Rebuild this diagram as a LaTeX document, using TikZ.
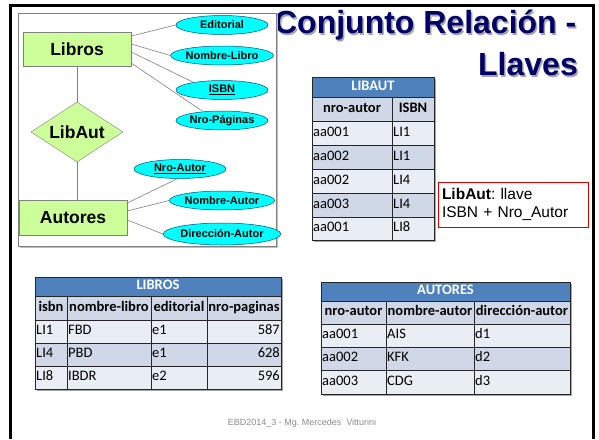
\documentclass[tikz,border=0pt]{standalone}
\usepackage{fontspec}
\setmainfont{Liberation Sans}
\newfontfamily\calfont{Carlito}
\usetikzlibrary{shapes.geometric}
\frenchspacing
\definecolor{navy}{RGB}{0,0,102}
\definecolor{ergreen}{RGB}{204,255,153}
\definecolor{ercyan}{RGB}{0,255,255}
\definecolor{ellline}{RGB}{0,80,120}
\definecolor{hdrblue}{RGB}{79,129,189}
\definecolor{rowA}{RGB}{233,237,244}
\definecolor{rowB}{RGB}{208,216,232}
\tikzset{
  ent/.style={draw=gray, fill=ergreen, minimum width=108pt, minimum height=34pt, inner sep=0pt, font=\fontsize{17.5}{20}\selectfont\bfseries},
  rel/.style={diamond, draw=gray, fill=ergreen, shape aspect=1.6, minimum width=92pt, minimum height=60pt, inner sep=0pt, font=\fontsize{17.5}{20}\selectfont\bfseries},
  attr/.style={ellipse, draw=ellline, line width=0.5pt, fill=ercyan, minimum width=92pt, minimum height=19pt, inner sep=0pt, font=\fontsize{11}{13}\selectfont\bfseries},
  erline/.style={draw=gray, line width=0.6pt},
  cellline/.style={draw=black!85, line width=0.6pt},
  celltxt/.style={inner sep=1pt, font=\calfont\fontsize{14.5}{17}\selectfont, text height=9.5pt, text depth=3pt},
  hdrtxt/.style={celltxt, font=\calfont\fontsize{14.5}{17}\selectfont\bfseries, text=white},
  coltxt/.style={celltxt, font=\calfont\fontsize{14.5}{17}\selectfont\bfseries},
  tshadow/.style={fill=black!35},
  titletxt/.style={inner sep=0pt, font=\fontsize{32}{38}\selectfont\bfseries}
}
% cell: name, x1, y1, x2, y2, fill, align(l/c/r), text, style
\newcommand\mycell[9]{%
  \path[cellline, fill=#6] (#2,#3) rectangle (#4,#5);
  \ifx l#7\node[#9, anchor=west] (#1) at ({#2},{(#3+#5)/2}) {#8};\fi
  \ifx c#7\node[#9] (#1) at ({(#2+#4)/2},{(#3+#5)/2}) {#8};\fi
  \ifx r#7\node[#9, anchor=east] (#1) at ({#4},{(#3+#5)/2}) {#8};\fi
}
\begin{document}
\begin{tikzpicture}[x=1pt,y=-1pt]
\useasboundingbox (0,0) rectangle (599,439);
\fill[white] (0,0) rectangle (599,439);
% slide frame
\draw[line width=3pt] (10,439) -- (10,5.5) -- (593,5.5) -- (593,439);

% title
\node[titletxt, text=black!35, anchor=base east] (t1s) at (578,35) {Conjunto Relación -};
\node[titletxt, text=navy, anchor=base east] (t1) at (576.5,33.5) {Conjunto Relación -};
\node[titletxt, text=black!35, anchor=base east] (t2s) at (579.5,77) {Llaves};
\node[titletxt, text=navy, anchor=base east] (t2) at (578,75.5) {Llaves};

% ER diagram box
\fill[black!25] (20,15) rectangle (278,248);
\draw[draw=gray, fill=white, line width=0.8pt] (18,13) rectangle (276,246);

\node[ent] (libros) at (77,49) {Libros};
\node[ent, minimum height=35pt] (autores) at (73,217.5) {Autores};
\node[rel] (libaut) at (77,132) {LibAut};

\node[attr] (editorial) at (222,25) {Editorial};
\node[attr] (nlibro) at (222,55.5) {Nombre-Libro};
\node[attr] (isbn) at (222,90) {\underline{ISBN}};
\node[attr] (npag) at (222,120.5) {Nro-Páginas};
\node[attr] (nautor) at (180,169) {\underline{Nro-Autor}};
\node[attr] (nombrea) at (222,200.5) {Nombre-Autor};
\node[attr, minimum height=22pt] (direcc) at (222,234) {Dirección-Autor};

\draw[erline] ([yshift=13pt]libros.east) -- (editorial.west);
\draw[erline] ([yshift=5pt]libros.east) -- (nlibro.west);
\draw[erline] ([yshift=-3pt]libros.east) -- (isbn.165);
\draw[erline] ([yshift=-14pt]libros.east) -- (npag.155);
\draw[erline] (libros.south -| libaut.north) -- (libaut.north);
\draw[erline] (libaut.south) -- (libaut.south |- autores.north);
\draw[erline] ([yshift=14.5pt]autores.east) -- (nautor.255);
\draw[erline] ([yshift=6.5pt]autores.east) -- (nombrea.west);
\draw[erline] ([yshift=-2.5pt]autores.east) -- (direcc.west);

% LIBAUT table
\fill[tshadow] (314,79) rectangle (436,242);
\mycell{la-h}{312}{77}{434}{97}{hdrblue}{c}{LIBAUT}{hdrtxt}
\mycell{la-c1}{312}{97}{392}{121}{rowB}{c}{nro-autor}{coltxt}
\mycell{la-c2}{392}{97}{434}{121}{rowB}{c}{ISBN}{coltxt}
\mycell{la-11}{312}{121}{392}{145}{rowA}{l}{aa001}{celltxt}
\mycell{la-12}{392}{121}{434}{145}{rowA}{l}{LI1}{celltxt}
\mycell{la-21}{312}{145}{392}{169}{rowB}{l}{aa002}{celltxt}
\mycell{la-22}{392}{145}{434}{169}{rowB}{l}{LI1}{celltxt}
\mycell{la-31}{312}{169}{392}{193}{rowA}{l}{aa002}{celltxt}
\mycell{la-32}{392}{169}{434}{193}{rowA}{l}{LI4}{celltxt}
\mycell{la-41}{312}{193}{392}{217}{rowB}{l}{aa003}{celltxt}
\mycell{la-42}{392}{193}{434}{217}{rowB}{l}{LI4}{celltxt}
\mycell{la-51}{312}{217}{392}{240}{rowA}{l}{aa001}{celltxt}
\mycell{la-52}{392}{217}{434}{240}{rowA}{l}{LI8}{celltxt}

% key note
\node[draw=red!85!black, line width=0.7pt, fill=white, minimum width=150pt, minimum height=45pt, text width=142pt, align=left, inner sep=4pt, font=\fontsize{15.5}{18.5}\selectfont] (nota) at (513,204.5) {\textbf{LibAut}: llave\\ISBN + Nro\_Autor};

% LIBROS table
\fill[tshadow] (37,279) rectangle (283,391);
\mycell{lb-h}{35}{277}{281}{296}{hdrblue}{c}{LIBROS}{hdrtxt}
\mycell{lb-c1}{35}{296}{67}{320}{rowB}{c}{isbn}{coltxt}
\mycell{lb-c2}{67}{296}{151}{320}{rowB}{c}{nombre-libro}{coltxt}
\mycell{lb-c3}{151}{296}{207}{320}{rowB}{c}{editorial}{coltxt}
\mycell{lb-c4}{207}{296}{281}{320}{rowB}{c}{nro-paginas}{coltxt}
\mycell{lb-11}{35}{320}{67}{343}{rowA}{l}{LI1}{celltxt}
\mycell{lb-12}{67}{320}{151}{343}{rowA}{l}{FBD}{celltxt}
\mycell{lb-13}{151}{320}{207}{343}{rowA}{l}{e1}{celltxt}
\mycell{lb-14}{207}{320}{281}{343}{rowA}{r}{587}{celltxt}
\mycell{lb-21}{35}{343}{67}{366}{rowB}{l}{LI4}{celltxt}
\mycell{lb-22}{67}{343}{151}{366}{rowB}{l}{PBD}{celltxt}
\mycell{lb-23}{151}{343}{207}{366}{rowB}{l}{e1}{celltxt}
\mycell{lb-24}{207}{343}{281}{366}{rowB}{r}{628}{celltxt}
\mycell{lb-31}{35}{366}{67}{389}{rowA}{l}{LI8}{celltxt}
\mycell{lb-32}{67}{366}{151}{389}{rowA}{l}{IBDR}{celltxt}
\mycell{lb-33}{151}{366}{207}{389}{rowA}{l}{e2}{celltxt}
\mycell{lb-34}{207}{366}{281}{389}{rowA}{r}{596}{celltxt}

% AUTORES table
\fill[tshadow] (323,284) rectangle (572,396);
\mycell{au-h}{321}{282}{570}{301}{hdrblue}{c}{AUTORES}{hdrtxt}
\mycell{au-c1}{321}{301}{386}{324}{rowB}{c}{nro-autor}{coltxt}
\mycell{au-c2}{386}{301}{474}{324}{rowB}{c}{nombre-autor}{coltxt}
\mycell{au-c3}{474}{301}{570}{324}{rowB}{c}{dirección-autor}{coltxt}
\mycell{au-11}{321}{324}{386}{347}{rowA}{l}{aa001}{celltxt}
\mycell{au-12}{386}{324}{474}{347}{rowA}{l}{AIS}{celltxt}
\mycell{au-13}{474}{324}{570}{347}{rowA}{l}{d1}{celltxt}
\mycell{au-21}{321}{347}{386}{370}{rowB}{l}{aa002}{celltxt}
\mycell{au-22}{386}{347}{474}{370}{rowB}{l}{KFK}{celltxt}
\mycell{au-23}{474}{347}{570}{370}{rowB}{l}{d2}{celltxt}
\mycell{au-31}{321}{370}{386}{394}{rowA}{l}{aa003}{celltxt}
\mycell{au-32}{386}{370}{474}{394}{rowA}{l}{CDG}{celltxt}
\mycell{au-33}{474}{370}{570}{394}{rowA}{l}{d3}{celltxt}

% footer
\node[text=black!45, font=\fontsize{9}{11}\selectfont] (footer) at (302,423) {EBD2014\_3 - Mg. Mercedes\ \ Vitturini};
\end{tikzpicture}
\end{document}
